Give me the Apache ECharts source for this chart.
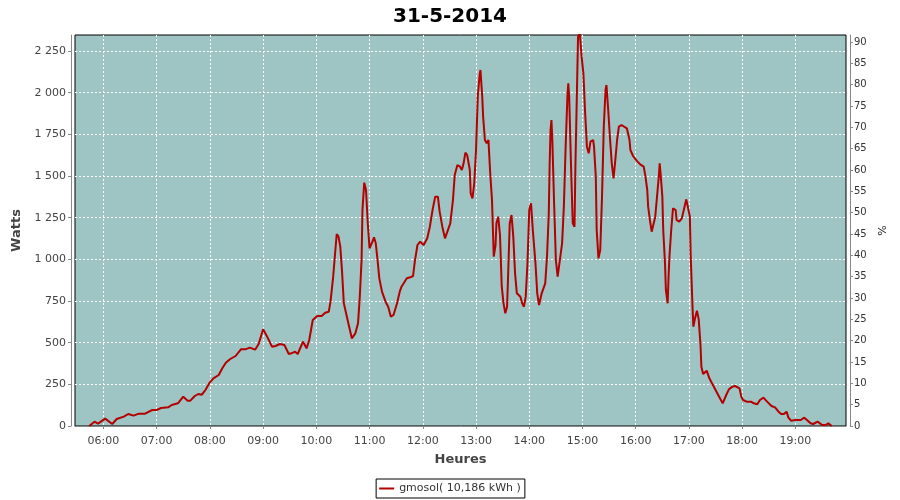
<!DOCTYPE html>
<html><head><meta charset="utf-8">
<script src="https://cdn.jsdelivr.net/npm/echarts@6/dist/echarts.min.js"></script>
<style>html,body{margin:0;padding:0;background:#fff}#c{width:900px;height:500px}</style>
</head><body><div id="c"></div>
<script>
const chartTitle = "31-5-2014";
const seriesName = "gmosol( 10,186 kWh )";
const times = ["05:44","05:50","05:54","06:02","06:10","06:15","06:23","06:28","06:34","06:40","06:47","06:49","06:55","07:00","07:05","07:13","07:17","07:24","07:30","07:32","07:35","07:38","07:43","07:47","07:51","07:55","08:00","08:04","08:10","08:14","08:18","08:23","08:29","08:35","08:40","08:45","08:51","08:55","09:00","09:04","09:10","09:14","09:19","09:24","09:29","09:32","09:36","09:39","09:45","09:49","09:52","09:56","10:01","10:06","10:10","10:14","10:16","10:19","10:21","10:23","10:25","10:27","10:29","10:31","10:34","10:37","10:40","10:44","10:47","10:49","10:51","10:52","10:54","10:56","10:58","11:00","11:02","11:04","11:05","11:07","11:09","11:11","11:14","11:18","11:21","11:24","11:27","11:31","11:34","11:36","11:42","11:46","11:49","11:51","11:54","11:57","12:01","12:05","12:08","12:11","12:14","12:17","12:19","12:22","12:25","12:27","12:31","12:34","12:36","12:39","12:42","12:44","12:46","12:48","12:50","12:53","12:54","12:56","12:58","13:00","13:02","13:04","13:05","13:07","13:08","13:10","13:12","13:14","13:16","13:18","13:20","13:22","13:23","13:25","13:27","13:29","13:31","13:33","13:35","13:36","13:38","13:40","13:42","13:44","13:46","13:50","13:52","13:54","13:56","13:58","14:00","14:02","14:04","14:07","14:09","14:11","14:14","14:18","14:20","14:22","14:23","14:24","14:25","14:26","14:28","14:30","14:32","14:34","14:37","14:39","14:41","14:43","14:44","14:45","14:47","14:49","14:51","14:52","14:54","14:55","14:57","14:59","15:01","15:03","15:05","15:07","15:09","15:12","15:13","15:15","15:16","15:18","15:20","15:22","15:24","15:26","15:27","15:29","15:31","15:33","15:35","15:37","15:39","15:41","15:44","15:50","15:53","15:54","15:57","16:01","16:05","16:09","16:11","16:13","16:14","16:16","16:18","16:20","16:22","16:24","16:26","16:27","16:28","16:30","16:31","16:33","16:34","16:36","16:37","16:38","16:40","16:42","16:45","16:46","16:49","16:52","16:55","16:57","16:59","17:01","17:02","17:04","17:05","17:07","17:09","17:11","17:13","17:14","17:16","17:18","17:20","17:23","17:27","17:30","17:34","17:38","17:40","17:42","17:45","17:49","17:52","17:54","17:57","17:59","18:01","18:05","18:10","18:13","18:17","18:20","18:24","18:27","18:30","18:33","18:37","18:41","18:44","18:47","18:50","18:52","18:55","19:00","19:06","19:10","19:13","19:17","19:20","19:25","19:27","19:30","19:34","19:37","19:39","19:41"];
const watts = [0,26,14,44,12,42,56,72,62,74,74,64,96,96,108,112,126,136,176,176,152,152,180,192,188,216,262,286,306,346,380,402,420,460,460,470,458,492,580,542,476,480,492,486,432,436,446,432,506,466,516,636,660,660,680,686,746,896,1026,1152,1136,1076,926,736,666,596,526,556,616,776,996,1296,1460,1416,1216,1066,1056,1116,1132,1096,996,886,806,746,716,656,666,736,806,836,886,892,900,986,1086,1106,1086,1126,1196,1296,1376,1376,1286,1196,1126,1126,1216,1356,1506,1566,1556,1536,1576,1640,1626,1536,1396,1366,1456,1656,1976,2106,2136,1976,1856,1716,1696,1716,1516,1356,1016,1086,1216,1256,1146,836,736,676,716,876,1216,1266,1136,916,796,776,736,716,776,976,1296,1336,1176,976,796,726,796,856,1016,1276,1576,1776,1836,1716,1336,996,896,976,1096,1316,1676,1976,2056,1976,1576,1216,1196,1556,2076,2336,2356,2216,2116,1876,1676,1636,1706,1716,1676,1496,1176,1006,1056,1376,1796,2016,2046,1896,1726,1576,1486,1596,1716,1796,1806,1786,1716,1656,1620,1592,1570,1556,1496,1416,1316,1236,1166,1176,1256,1376,1496,1576,1516,1376,1176,976,816,736,896,1016,1176,1306,1296,1236,1226,1246,1316,1360,1356,1256,1016,716,596,650,692,640,486,356,312,312,332,286,246,216,176,136,146,186,220,236,240,252,226,176,156,146,146,136,130,156,170,152,136,120,112,86,72,72,86,52,32,36,36,50,36,16,12,26,16,6,6,16,10,0];
const hourLabels = ["06:00","07:00","08:00","09:00","10:00","11:00","12:00","13:00","14:00","15:00","16:00","17:00","18:00","19:00"];
const wattTicks = [0,250,500,750,1000,1250,1500,1750,2000,2250];
const pctTicks = [0,5,10,15,20,25,30,35,40,45,50,55,60,65,70,75,80,85,90];

function toMin(s){ const p = s.split(':'); return (+p[0])*60 + (+p[1]); }
function toHHMM(v){ const h = Math.floor(v/60), m = Math.round(v - h*60); return String(h).padStart(2,'0') + ':' + String(m).padStart(2,'0'); }
function fmtW(v){ if (v >= 1000) { return Math.floor(v/1000) + ' ' + String(v % 1000).padStart(3,'0'); } return String(v); }

const hourVals = hourLabels.map(toMin);
const seriesData = times.map((t, i) => [toMin(t), watts[i]]);

const FONT = 'DejaVu Sans';
const chart = echarts.init(document.getElementById('c'), null, {renderer: 'canvas'});
chart.setOption({
  animation: false,
  backgroundColor: '#ffffff',
  title: {
    text: chartTitle, left: 'center', top: 2,
    textStyle: {fontFamily: FONT, fontSize: 20, fontWeight: 'bold', color: '#000'}
  },
  legend: {
    bottom: 2, left: 'center',
    data: [{name: seriesName, icon: 'rect'}],
    itemWidth: 15, itemHeight: 2,
    padding: [4, 4, 4, 3],
    borderColor: '#000', borderWidth: 1, borderRadius: 0,
    textStyle: {fontFamily: FONT, fontSize: 11, color: '#333'}
  },
  grid: {
    left: 75, right: 54, top: 35, bottom: 74,
    show: true, backgroundColor: '#9ec4c4', borderColor: '#000', borderWidth: 1,
    containLabel: false
  },
  xAxis: {
    type: 'value', min: 328, max: 1197, offset: 5,
    name: 'Heures', nameLocation: 'middle', nameGap: 22,
    nameTextStyle: {fontFamily: FONT, fontSize: 13, fontWeight: 'bold', color: '#444'},
    axisLine: {show: true, lineStyle: {color: '#888', width: 1}},
    axisTick: {show: true, length: 3, lineStyle: {color: '#888'}, customValues: hourVals},
    axisLabel: {customValues: hourVals, formatter: toHHMM, margin: 5,
      fontFamily: FONT, fontSize: 11, color: '#444'},
    splitLine: {show: true, lineStyle: {color: '#ffffff', width: 1, type: [2, 2]}}
  },
  yAxis: [{
    type: 'value', position: 'left', min: 0, max: 2346, offset: 4,
    name: 'Watts', nameLocation: 'middle', nameGap: 41,
    nameTextStyle: {fontFamily: FONT, fontSize: 13, fontWeight: 'bold', color: '#444'},
    axisLine: {show: true, lineStyle: {color: '#888', width: 1}},
    axisTick: {show: true, length: 3, lineStyle: {color: '#888'}, customValues: wattTicks},
    axisLabel: {customValues: wattTicks, formatter: fmtW, margin: 5,
      fontFamily: FONT, fontSize: 11, color: '#444'},
    splitLine: {show: true, lineStyle: {color: '#ffffff', width: 1, type: [2, 2]}}
  }, {
    type: 'value', position: 'right', min: 0, max: 91.64, offset: 4,
    name: '%', nameLocation: 'middle', nameGap: 22,
    nameTextStyle: {fontFamily: FONT, fontSize: 11, color: '#222'},
    axisLine: {show: true, lineStyle: {color: '#888', width: 1}},
    axisTick: {show: true, length: 3, lineStyle: {color: '#888'}, customValues: pctTicks},
    axisLabel: {customValues: pctTicks, margin: 4,
      fontFamily: FONT, fontSize: 10, color: '#333'},
    splitLine: {show: false}
  }],
  series: [{
    name: seriesName, type: 'line', yAxisIndex: 0,
    data: seriesData, showSymbol: false, symbol: 'none',
    lineStyle: {color: '#b40000', width: 2}, itemStyle: {color: '#b40000'},
    clip: true
  }]
});
</script>
</body></html>
